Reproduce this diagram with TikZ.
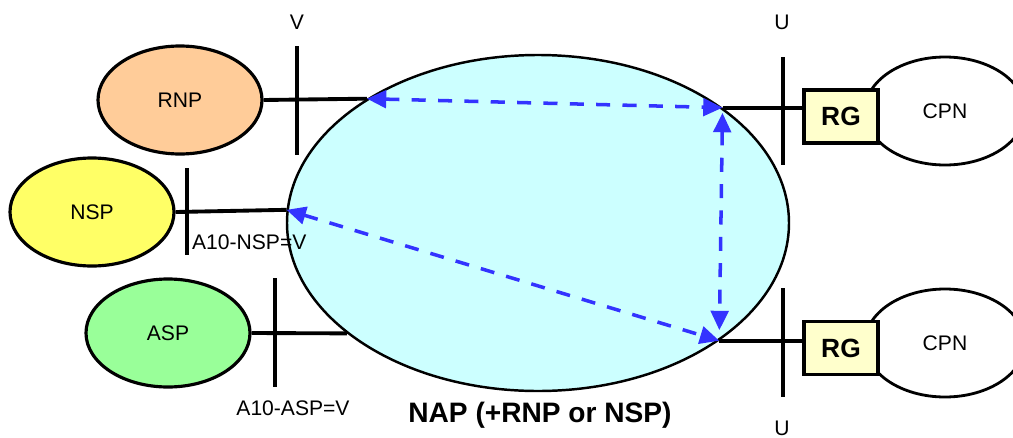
\documentclass[tikz,border=0pt]{standalone}
\usepackage{fontspec}
\setmainfont{Liberation Sans}
\usepackage{xcolor}
\definecolor{napCyan}{RGB}{204,255,255}
\definecolor{rnpPeach}{RGB}{255,204,153}
\definecolor{nspYellow}{RGB}{255,255,102}
\definecolor{aspGreen}{RGB}{153,255,153}
\definecolor{rgCream}{RGB}{255,255,204}
\definecolor{flowBlue}{RGB}{51,51,255}
\usetikzlibrary{positioning,shapes.geometric,arrows.meta}

\begin{document}
\begin{tikzpicture}[
  prov/.style={draw, ellipse, line width=1.8pt, minimum width=3.28cm, minimum height=2.16cm,
               inner sep=0pt, font=\fontsize{12}{14}\selectfont},
  cpn/.style={prov, line width=1.6pt, minimum width=3.2cm},
  gw/.style={draw, line width=2pt, fill=rgCream, minimum width=1.48cm, minimum height=1.06cm,
             inner sep=0pt, font=\fontsize{15}{17}\selectfont\bfseries},
  wire/.style={line width=2.2pt},
  bar/.style={line width=2.2pt},
  flow/.style={{Triangle[length=11pt,width=10pt]}-{Triangle[length=11pt,width=10pt]},
               flowBlue, line width=2pt, dash pattern=on 8pt off 7pt},
  lab/.style={font=\fontsize{12}{14}\selectfont, inner sep=1pt}
]
\useasboundingbox (0,0) rectangle (20.26,-8.74);

%% access network
\node[draw, ellipse, fill=napCyan, line width=1.4pt, minimum width=10.04cm, minimum height=6.72cm]
      (nap) at (10.76,-4.46) {};
\node[font=\fontsize{16}{18}\selectfont\bfseries] (naplab) at (10.8,-8.3) {NAP (+RNP or NSP)};

%% providers on the left
\node[prov, fill=rnpPeach]  (rnp) at (3.6,-2.0)   {RNP};
\node[prov, fill=nspYellow] (nsp) at (1.84,-4.24) {NSP};
\node[prov, fill=aspGreen]  (asp) at (3.36,-6.66) {ASP};
\draw[wire] (rnp.east) -- (nap.144.5);
\draw[wire] (nsp.east) -- (nap.177);
\draw[wire] (asp.east) -- (nap.210.3);
\draw[bar] (5.94,-0.92) -- (5.94,-3.10);
\draw[bar] (3.74,-3.36) -- (3.74,-5.10);
\draw[bar] (5.50,-5.56) -- (5.50,-7.74);
\node[lab] (vlab)  at (5.94,-0.44) {V};
\node[lab, anchor=west] (nsplab) at (3.80,-4.84) {A10-NSP=V};
\node[lab] (asplab) at (5.86,-8.16) {A10-ASP=V};

%% customer side
\node[cpn] (cpn1) at (18.9,-2.22) {CPN};
\node[cpn] (cpn2) at (18.9,-6.86) {CPN};
\node[gw]  (rg1) at (16.82,-2.33) {RG};
\node[gw]  (rg2) at (16.82,-6.96) {RG};
\draw[wire] (nap.32.7) -- (nap.32.7 -| rg1.west);
\draw[wire] (nap.-33.4) -- (nap.-33.4 -| rg2.west);
\draw[bar] (15.66,-1.14) -- (15.66,-3.30);
\draw[bar] (15.66,-5.76) -- (15.66,-7.94);
\node[lab] (ulab1) at (15.64,-0.44) {U};
\node[lab] (ulab2) at (15.64,-8.56) {U};

%% flows inside the NAP
\draw[flow] (nap.144.5) -- (nap.32.7);
\draw[flow, shorten <=3pt, shorten >=6pt] (nap.32.7) -- (nap.-33.4);
\draw[flow] (nap.177) -- (nap.-33.4);
\end{tikzpicture}
\end{document}
